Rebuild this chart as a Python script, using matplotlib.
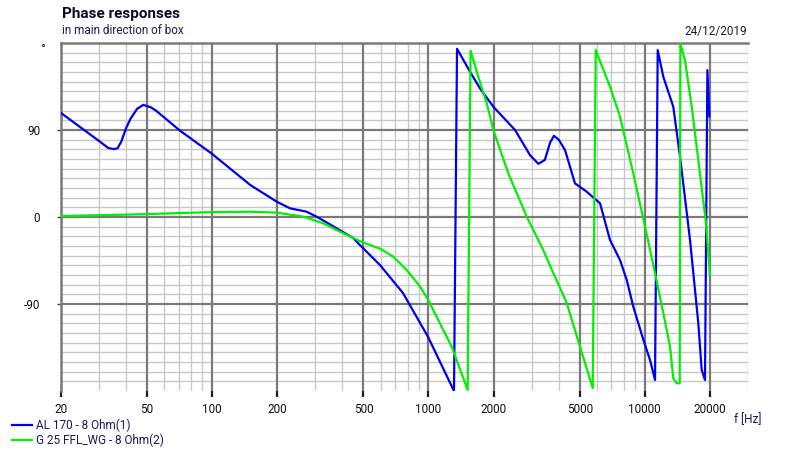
import matplotlib
matplotlib.use("Agg")
import matplotlib.pyplot as plt
from matplotlib.ticker import FixedLocator, NullFormatter

plt.rcParams['font.family'] = ['Roboto', 'DejaVu Sans']

# ---- data ----
freq_al = [20, 25, 30, 33, 35, 36.5, 38, 40, 42, 45, 48, 52, 55, 71, 100, 150, 199, 229,
           273, 304, 350, 448, 482, 597, 762, 995, 1312, 1355, 1556, 1730, 1995, 2513,
           2946, 3220, 3450, 3650, 3800, 4000, 4277, 4755, 5387, 6209, 6905, 7680, 8248,
           8850, 9846, 10575, 11150, 11474, 12180, 13544, 14550, 16185, 17680, 18320,
           18980, 19470, 19900]
phase_al = [107.6, 91.6, 78.6, 71.5, 70.3, 71, 78, 92, 102, 112, 116, 113.5, 110, 89.3,
            65.2, 33.1, 15.8, 9, 5.5, 0.3, -7.6, -21.7, -29, -49.7, -78.6, -124, -180,
            174, 150.3, 133, 114, 90, 64, 55, 59, 77, 84, 80, 69.3, 34.8, 26.2, 14.2,
            -23.8, -44.5, -65, -92.8, -127, -148, -168.6, 172.7, 145, 114, 62.4, -23.8,
            -110, -158, -168.6, 152, 104]

freq_g = [20, 46.4, 94.3, 149.5, 199, 264, 326, 390, 482, 600, 687, 793, 914, 998, 1130,
          1280, 1517, 1565, 1699, 1859, 1995, 2340, 2845, 3336, 3777, 4356, 5015, 5744,
          5929, 6905, 7680, 8850, 10025, 11150, 12180, 13080, 13544, 14045, 14500, 14600,
          15346, 16480, 17990, 19190, 20000]
phase_g = [1, 2.8, 4.9, 5.5, 4.5, 0.3, -6.5, -15.2, -25, -33, -41, -54.8, -72, -86, -110,
           -134, -179, 172, 145, 117.6, 90, 45, 0.3, -30.7, -58, -89, -134, -177,
           172.7, 134.8, 103.8, 45, -10, -58, -99.6, -134, -167, -172, -172, 179,
           162, 114, 45, -6.5, -60]

labels = ["AL 170 - 8 Ohm(1)", "G 25 FFL_WG - 8 Ohm(2)"]
x_major = [20, 50, 100, 200, 500, 1000, 2000, 5000, 10000, 20000]
x_labels = ["20", "50", "100", "200", "500", "1000", "2000", "5000", "10000", "20000"]
x_minor = [30, 40, 60, 70, 80, 90, 300, 400, 600, 700, 800, 900, 3000, 4000, 6000,
           7000, 8000, 9000, 30000]
y_major = [-90, 0, 90]
y_labels = ["-90", "0", "90"]

W, H = 800, 454
fs = 8.5
fig = plt.figure(figsize=(W / 100, H / 100), dpi=100)
ax = fig.add_axes([61 / W, 1 - 391 / H, 687 / W, 348 / H])
ax.set_xscale('log')
ax.set_xlim(20, 30000)
ax.set_ylim(-180, 180)

dark = '#7a7a7a'
light = '#c8c8c8'
for v in range(-170, 180, 10):
    if v in y_major:
        continue
    ax.axhline(v, color=light, lw=1.0, zorder=1)
for v in y_major:
    ax.axhline(v, color=dark, lw=1.6, zorder=1.5)
for v in x_minor:
    ax.axvline(v, color=light, lw=1.0, zorder=1)
for v in x_major:
    ax.axvline(v, color=dark, lw=1.6, zorder=1.5)

ax.plot(freq_al, phase_al, color='#0000f0', lw=1.6, zorder=3, label=labels[0])
ax.plot(freq_g, phase_g, color='#00f000', lw=1.6, zorder=3, label=labels[1])

for s in ['bottom', 'right']:
    ax.spines[s].set_visible(False)
ax.spines['top'].set_color(dark)
ax.spines['top'].set_linewidth(1.8)
ax.spines['left'].set_color(dark)
ax.spines['left'].set_linewidth(1.8)

ax.xaxis.set_major_locator(FixedLocator(x_major))
ax.xaxis.set_minor_locator(FixedLocator([]))
ax.xaxis.set_minor_formatter(NullFormatter())
ax.set_xticklabels(x_labels)
ax.tick_params(axis='x', which='major', direction='out', length=4, width=1.6,
               color='#202020', labelsize=fs, pad=4.5, labelcolor='#101010')
ax.set_yticks(y_major)
ax.set_yticklabels(y_labels)
ax.tick_params(axis='y', which='major', direction='out', length=3, width=1.0,
               color='#404040', labelsize=fs, pad=12, labelcolor='#101010')
ax.text(-16 / 687, 1 - 7 / 348, "°", transform=ax.transAxes, ha='right', va='center',
        fontsize=9.5, color='#101010')

fig.text(62 / W, 1 - 14 / H, "Phase responses", fontsize=11, fontweight='bold',
         color='#0a0a2a', ha='left', va='center')
fig.text(62 / W, 1 - 31 / H, "in main direction of box", fontsize=fs, color='#1a1a5a',
         ha='left', va='center')
fig.text(747 / W, 1 - 31 / H, "24/12/2019", fontsize=fs, color='#1a1a3a',
         ha='right', va='center')
fig.text(762 / W, 1 - 420 / H, "f [Hz]", fontsize=fs, color='#1a1a5a',
         ha='right', va='center')

fig.legend(loc='upper left', bbox_to_anchor=(12 / W, 1 - 419 / H), frameon=False,
           fontsize=fs, handlelength=1.7, handletextpad=0.33, labelspacing=0.1,
           borderaxespad=0, borderpad=0, labelcolor='#1a1a5a')

fig.savefig("out.png", dpi=100)
